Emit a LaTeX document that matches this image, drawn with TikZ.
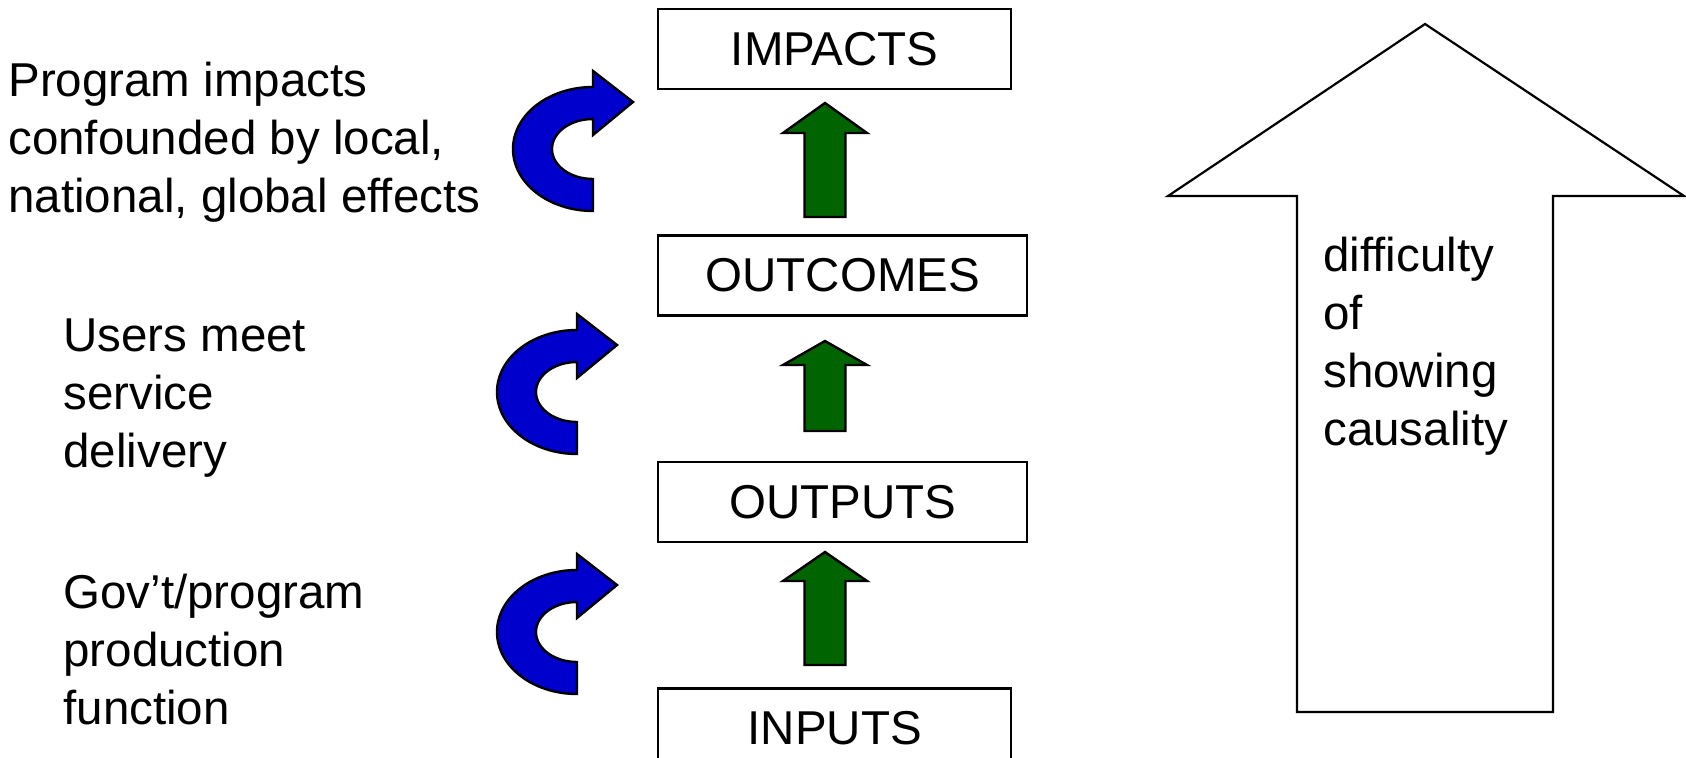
\documentclass[tikz,border=0pt]{standalone}
\usepackage{fontspec}
\setmainfont{Liberation Sans}[Ligatures=CommonOff]
\usetikzlibrary{positioning}
\definecolor{curlblue}{RGB}{0,0,204}
\definecolor{upgreen}{RGB}{0,100,0}

% blue curved arrow, centred at (#1,#2)
\newcommand{\curlarrow}[2]{%
  \draw[bluecurl] (#1,#2+62) arc[start angle=90, end angle=270, x radius=80, y radius=62]
    -- (#1,#2-78) -- (#1+40,#2-47) -- (#1,#2-14) -- (#1,#2-30)
    arc[start angle=270, end angle=90, x radius=41, y radius=30] -- cycle;}

% green block arrow: x, tip, head base, bottom
\newcommand{\greenarrow}[4]{%
  \draw[greenup] (#1-20.5,#4) -- (#1-20.5,#3) -- (#1-42,#3) -- (#1,#2)
    -- (#1+42,#3) -- (#1+20.5,#3) -- (#1+20.5,#4) -- cycle;}

\begin{document}
\begin{tikzpicture}[x=0.5pt, y=-0.5pt, font=\fontsize{23.75}{29}\selectfont,
  box/.style={draw, line width=1.2pt, inner sep=0pt, minimum height=40pt},
  sidetext/.style={anchor=base west, align=left, inner sep=0pt},
  bluecurl/.style={draw, line width=1.2pt, fill=curlblue},
  greenup/.style={draw, line width=1.2pt, fill=upgreen}]
  \useasboundingbox (0,0) rectangle (1686,758);
  \clip (0,0) rectangle (1686,758);

  % Chain of boxes
  \node[box, minimum width=176.5pt, anchor=north west] (impacts) at (657,8) {IMPACTS};
  \node[box, minimum width=184.5pt, below=72pt of impacts.south west, anchor=north west] (outcomes) {OUTCOMES};
  \node[box, minimum width=184.5pt, below=72pt of outcomes.south west, anchor=north west] (outputs) {OUTPUTS};
  \node[box, minimum width=176.5pt, below=72pt of outputs.south west, anchor=north west] (inputs) {INPUTS};

  % Green arrows between boxes
  \greenarrow{825}{103}{133}{217}
  \greenarrow{825}{341}{365}{431}
  \greenarrow{825}{552}{581}{665}

  % Blue curved arrows
  \curlarrow{593}{149}
  \curlarrow{577}{392}
  \curlarrow{577}{632}

  % Side texts (anchored at the last line)
  \node[sidetext] (progtext) at (8,213) {Program impacts\\confounded by local,\\national, global effects};
  \node[sidetext] (usertext) at (63,468) {Users meet\\service\\delivery};
  \node[sidetext] (govtext) at (63,724) {Gov’t/program\\production\\function};

  % Big arrow
  \draw[line width=1.1pt] (1297,712) -- (1297,196) -- (1168,196) -- (1425,24)
    -- (1684,196) -- (1553,196) -- (1553,712) -- cycle;
  \node[sidetext] (causetext) at (1323,446) {difficulty\\of\\showing\\causality};
\end{tikzpicture}
\end{document}
